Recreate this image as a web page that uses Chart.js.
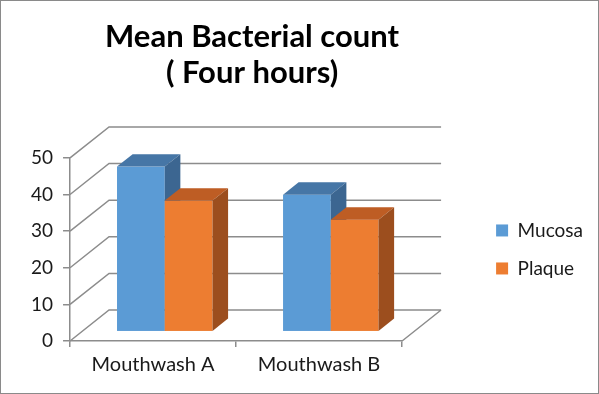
<!DOCTYPE html>
<html>
<head>
<meta charset="utf-8">
<script src="https://cdn.jsdelivr.net/npm/chart.js@4.4.1/dist/chart.umd.min.js"></script>
<style>
  body { margin: 0; background: #fff; }
  canvas { display: block; }
</style>
</head>
<body>
<canvas id="bacteriaChart" width="599" height="394"></canvas>
<script>
const categories = ['Mouthwash A', 'Mouthwash B'];
const mucosa = [45.1, 37.4];
const plaque = [35.8, 30.6];
const yTicks = [0, 10, 20, 30, 40, 50];

const gridColor = '#8c8c8c';
const font = 'Lato';
// depth of the 3d box, bars sit in the middle part of it
const depth = { dx: 39, dy: -31 };
const faces = [
    { front: '#5b9bd5', top: '#4676a6', side: '#3c6691' },
    { front: '#ed7d31', top: '#be5d24', side: '#9c4e1e' }
];

function drawBar(ctx, el, c) {
    const ox = depth.dx * 0.3, oy = depth.dy * 0.3;
    const bx = depth.dx * 0.4, by = depth.dy * 0.4;
    const l = el.x - el.width / 2 + ox, r = el.x + el.width / 2 + ox;
    const t = el.y + oy, b = el.base + oy;
    ctx.fillStyle = c.front;
    ctx.fillRect(l, t, r - l, b - t);
    ctx.fillStyle = c.top;
    ctx.beginPath();
    ctx.moveTo(l, t); ctx.lineTo(r, t); ctx.lineTo(r + bx, t + by); ctx.lineTo(l + bx, t + by);
    ctx.closePath(); ctx.fill();
    ctx.fillStyle = c.side;
    ctx.beginPath();
    ctx.moveTo(r, t); ctx.lineTo(r + bx, t + by); ctx.lineTo(r + bx, b + by); ctx.lineTo(r, b);
    ctx.closePath(); ctx.fill();
}

const box3d = {
    id: 'box3d',
    afterLayout(chart) {
        // title sits a bit right of the plot centre, legend well clear of the back wall
        chart.titleBlock.left += 16;
        chart.titleBlock.right += 16;
        const lg = chart.legend;
        const w = lg.width;
        lg.left = chart.chartArea.right + 75;
        lg.right = lg.left + w;
    },
    beforeDatasetsDraw(chart) {
        const { ctx, chartArea: a, scales: { y } } = chart;
        ctx.save();
        ctx.strokeStyle = gridColor;
        ctx.lineWidth = 1.5;
        ctx.beginPath();
        yTicks.forEach(v => {
            const py = y.getPixelForValue(v);
            ctx.moveTo(a.left, py);
            ctx.lineTo(a.left + depth.dx, py + depth.dy);
            ctx.lineTo(a.right + depth.dx, py + depth.dy);
        });
        ctx.moveTo(a.right, a.bottom);
        ctx.lineTo(a.right + depth.dx, a.bottom + depth.dy);
        ctx.stroke();

        const metas = chart.getSortedVisibleDatasetMetas();
        categories.forEach((c, i) => {
            metas.forEach(m => drawBar(ctx, m.data[i], faces[m.index]));
        });
        ctx.restore();
        return false;
    },
    afterDraw(chart) {
        const ctx = chart.ctx;
        ctx.save();
        ctx.strokeStyle = '#8a8a8a';
        ctx.lineWidth = 1;
        ctx.strokeRect(0.5, 0.5, chart.width - 1, chart.height - 1);
        ctx.restore();
    }
};

const ctx = document.getElementById('bacteriaChart').getContext('2d');

new Chart(ctx, {
    type: 'bar',
    data: {
        labels: categories,
        datasets: [
            { label: 'Mucosa', data: mucosa, backgroundColor: faces[0].front },
            { label: 'Plaque', data: plaque, backgroundColor: faces[1].front }
        ]
    },
    options: {
        responsive: false,
        animation: false,
        categoryPercentage: 0.575,
        barPercentage: 1,
        layout: {
            padding: { left: 21, right: 81, top: 0, bottom: 11 }
        },
        plugins: {
            title: {
                display: true,
                fullSize: false,
                text: ['Mean Bacterial count', '( Four hours)'],
                color: '#000',
                font: { family: font, size: 31, weight: 'bold', lineHeight: 1.16 },
                padding: { top: 19, bottom: 67 }
            },
            legend: {
                position: 'right',
                fullSize: false,
                labels: {
                    boxWidth: 12,
                    boxHeight: 12,
                    padding: 19,
                    color: '#1a1a1a',
                    font: { family: font, size: 19 }
                }
            },
            tooltip: { enabled: false }
        },
        scales: {
            x: {
                grid: { drawOnChartArea: false, tickLength: 6, color: gridColor, lineWidth: 1.5 },
                border: { color: gridColor, width: 1.5 },
                ticks: { color: '#1a1a1a', padding: 6, font: { family: font, size: 20 } }
            },
            y: {
                min: 0,
                max: 50,
                grid: { drawOnChartArea: false, tickLength: 7, color: gridColor, lineWidth: 1.5 },
                border: { color: gridColor, width: 1.5 },
                ticks: { stepSize: 10, color: '#1a1a1a', padding: 10, font: { family: font, size: 19 } }
            }
        }
    },
    plugins: [box3d]
});
</script>
</body>
</html>
